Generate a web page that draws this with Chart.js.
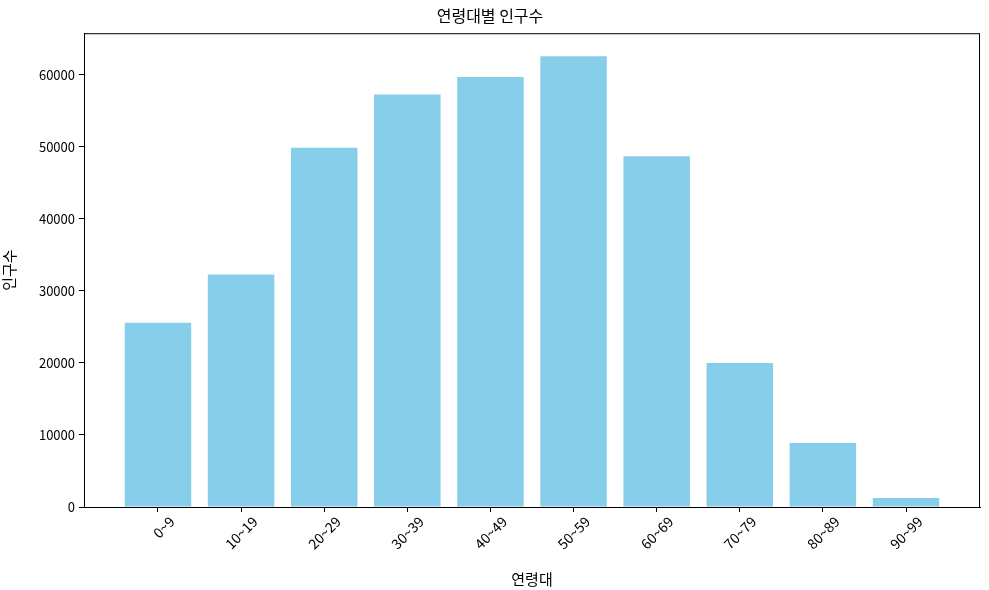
<!DOCTYPE html>
<html>
<head>
<meta charset="utf-8">
<script src="https://cdn.jsdelivr.net/npm/chart.js@4"></script>
<style>
  html, body { margin: 0; padding: 0; background: #fff; }
  #wrap { width: 989px; height: 590px; }
</style>
</head>
<body>
<div id="wrap"><canvas id="chart"></canvas></div>
<script>
const ageGroups = ['0~9', '10~19', '20~29', '30~39', '40~49', '50~59', '60~69', '70~79', '80~89', '90~99'];
const population = [25600, 32300, 49900, 57300, 59700, 62600, 48700, 20000, 8900, 1250];
const yTicks = [0, 10000, 20000, 30000, 40000, 50000, 60000];

const FONT = '"Noto Sans CJK KR", "Noto Sans", sans-serif';

// matplotlib draws a full box around the axes
const frame = {
    id: 'frame',
    afterDraw(chart) {
        const a = chart.chartArea;
        const ctx = chart.ctx;
        ctx.save();
        ctx.strokeStyle = '#000';
        ctx.lineWidth = 1;
        ctx.strokeRect(a.left + 0.5, a.top + 0.5, a.right - a.left - 1, a.bottom - a.top);
        ctx.restore();
    }
};

const ctx = document.getElementById('chart').getContext('2d');
new Chart(ctx, {
    type: 'bar',
    data: {
        datasets: [{
            data: ageGroups.map((g, i) => ({ x: i, y: population[i] })),
            backgroundColor: '#87CEEB',
            borderWidth: 0,
            barPercentage: 0.8,
            categoryPercentage: 1.0
        }]
    },
    options: {
        responsive: true,
        maintainAspectRatio: false,
        animation: false,
        layout: { padding: { left: 0, right: 9, top: 0, bottom: 0 } },
        plugins: {
            legend: { display: false },
            tooltip: { enabled: false },
            title: {
                display: true,
                text: '연령대별 인구수',
                color: '#000',
                font: { family: FONT, size: 16, weight: 'normal' },
                padding: { top: 6, bottom: 8 }
            }
        },
        scales: {
            x: {
                type: 'linear',
                offset: false,
                min: -0.89,
                max: 9.89,
                afterBuildTicks: s => { s.ticks = ageGroups.map((g, i) => ({ value: i })); },
                afterFit: s => { s.height = 83; },
                grid: { display: true, offset: false, drawOnChartArea: false, drawTicks: true, tickLength: 5, color: '#000' },
                border: { display: true, color: '#000' },
                ticks: {
                    color: '#000',
                    font: { family: FONT, size: 14 },
                    minRotation: 45,
                    maxRotation: 45,
                    labelOffset: 14,
                    padding: 1,
                    callback: v => ageGroups[v]
                },
                title: {
                    display: true,
                    text: '연령대',
                    color: '#000',
                    font: { family: FONT, size: 15 },
                    padding: { top: 0, bottom: 2 }
                }
            },
            y: {
                min: 0,
                max: 65800,
                afterBuildTicks: s => { s.ticks = yTicks.map(v => ({ value: v })); },
                afterFit: s => { s.width = 84; },
                grid: { display: true, drawOnChartArea: false, drawTicks: true, tickLength: 5, color: '#000' },
                border: { display: true, color: '#000' },
                ticks: {
                    color: '#000',
                    font: { family: FONT, size: 13 },
                    padding: 4,
                    callback: v => String(v)
                },
                title: {
                    display: true,
                    text: '인구수',
                    color: '#000',
                    font: { family: FONT, size: 15 },
                    padding: { top: 0, bottom: 4 }
                }
            }
        }
    },
    plugins: [frame]
});
</script>
</body>
</html>
